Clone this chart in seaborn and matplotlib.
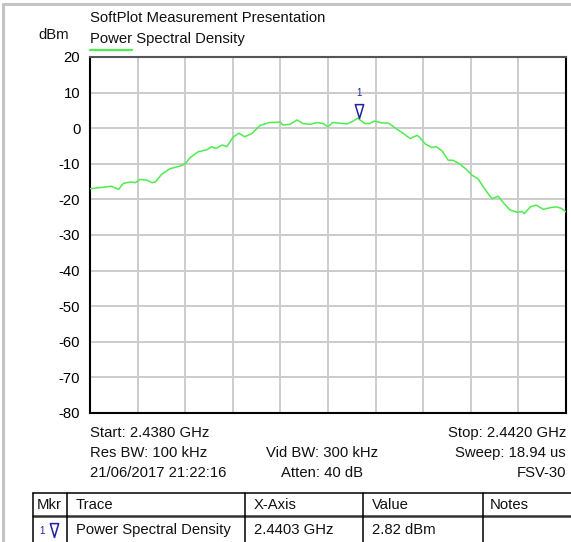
import numpy as np
import pandas as pd
import matplotlib
matplotlib.use("Agg")
import matplotlib.pyplot as plt
from matplotlib.path import Path
from matplotlib.lines import Line2D
import seaborn as sns

# ---------------- data ----------------
freq_ghz = [2.43800, 2.43808, 2.43818, 2.43824, 2.43828, 2.43834, 2.43838, 2.43842,
            2.43848, 2.43852, 2.43855, 2.43860, 2.43867, 2.43876, 2.43880, 2.43884,
            2.43891, 2.43898, 2.43902, 2.43906, 2.43911, 2.43915, 2.43920, 2.43925,
            2.43930, 2.43936, 2.43943, 2.43951, 2.43960, 2.43962, 2.43968, 2.43974,
            2.43979, 2.43985, 2.43991, 2.43996, 2.44000, 2.44004, 2.44010, 2.44016,
            2.44020, 2.44025, 2.44031, 2.44035, 2.44039, 2.44045, 2.44051, 2.44058,
            2.44063, 2.44069, 2.44075, 2.44077, 2.44082, 2.44087, 2.44091, 2.44096,
            2.44101, 2.44105, 2.44111, 2.44117, 2.44121, 2.44126, 2.44130, 2.44135,
            2.44138, 2.44143, 2.44147, 2.44153, 2.44159, 2.44163, 2.44165, 2.44170,
            2.44175, 2.44181, 2.44187, 2.44192, 2.44196, 2.44200]
psd_dbm = [-17.0, -16.7, -16.3, -17.2, -15.5, -15.1, -15.3, -14.4,
           -14.6, -15.3, -15.1, -13.0, -11.4, -10.6, -10.0, -8.3,
           -6.6, -6.1, -5.2, -5.7, -4.7, -5.2, -2.6, -1.4,
           -2.4, -1.5, 0.8, 1.6, 1.7, 0.9, 1.1, 2.3,
           1.3, 1.1, 1.6, 1.3, 0.4, 1.6, 1.4, 1.2,
           1.8, 2.8, 1.3, 1.3, 2.0, 1.5, 1.4, -0.3,
           -1.4, -2.9, -2.0, -2.6, -4.5, -5.4, -5.2, -6.4,
           -9.0, -9.0, -10.1, -11.8, -13.2, -14.2, -16.2, -18.6,
           -19.8, -19.1, -20.8, -23.0, -23.6, -23.4, -24.0, -22.1,
           -21.6, -22.8, -22.3, -22.1, -22.5, -23.5]

marker_ids = ["1"]
marker_freq_ghz = [2.44026]
marker_value_dbm = [2.82]

y_ticks = [20, 10, 0, -10, -20, -30, -40, -50, -60, -70, -80]
start_ghz, stop_ghz = 2.4380, 2.4420

title = "SoftPlot Measurement Presentation"
trace_name = "Power Spectral Density"
y_unit = "dBm"
info_left = ["Start: 2.4380 GHz", "Res BW: 100 kHz", "21/06/2017 21:22:16"]
info_mid = ["", "Vid BW: 300 kHz", "Atten: 40 dB"]
info_right = ["Stop: 2.4420 GHz", "Sweep: 18.94 us", "FSV-30"]
table_header = ["Mkr", "Trace", "X-Axis", "Value", "Notes"]

# ---------------- style ----------------
sns.set_theme(style="white")
plt.rcParams['font.family'] = ['Liberation Sans', 'DejaVu Sans']

GREEN = "#4ded4d"
BLUE = "#22229a"
GRID = "#cccccc"
FS = 10.7

W, H = 571, 542
fig = plt.figure(figsize=(W / 100, H / 100), dpi=100)
fig.patch.set_facecolor("white")

# overlay axes in pixel coordinates for page decorations
ov = fig.add_axes([0, 0, 1, 1], zorder=0)
ov.set_xlim(0, W)
ov.set_ylim(H, 0)
ov.axis("off")

# plot axes
L, R, T, B = 90, 566, 57, 413
ax = fig.add_axes([L / W, 1 - B / H, (R - L) / W, (B - T) / H], zorder=2)
ax.set_facecolor("none")

df = pd.DataFrame({"freq": freq_ghz, "psd": psd_dbm})
sns.lineplot(data=df, x="freq", y="psd", ax=ax, color=GREEN, linewidth=1.1, zorder=3)

ax.set_xlim(start_ghz, stop_ghz)
ax.set_ylim(-80, 20)
ax.set_xticks(np.linspace(start_ghz, stop_ghz, 11))
ax.set_xticklabels([])
ax.set_yticks(y_ticks)
ax.set_yticklabels([str(v) for v in y_ticks], fontsize=FS, color="black")
ax.tick_params(axis="both", length=0, pad=7)
ax.grid(True, color=GRID, linewidth=1.4)
ax.set_axisbelow(True)
ax.set_xlabel("")
ax.set_ylabel("")
for s in ax.spines.values():
    s.set_visible(True)
    s.set_color("black")
    s.set_linewidth(1.5)
ax.spines["top"].set_color("#555555")

# marker triangle with apex on the data point
tri = Path([(-0.3, 1.0), (0.3, 1.0), (0.0, 0.0), (-0.3, 1.0)],
           [Path.MOVETO, Path.LINETO, Path.LINETO, Path.CLOSEPOLY])
ax.plot(marker_freq_ghz, marker_value_dbm, linestyle="none", marker=tri, markersize=20,
        markerfacecolor="none", markeredgecolor=BLUE, markeredgewidth=1.1, zorder=4)
for mid, mf, mv in zip(marker_ids, marker_freq_ghz, marker_value_dbm):
    ax.annotate(mid, (mf, mv), xytext=(0, 18), textcoords="offset points",
                ha="center", va="center", fontsize=7, color=BLUE)

# page border
ov.add_line(Line2D([3, W], [4, 4], color="#c4c4c4", linewidth=2.2))
ov.add_line(Line2D([3, 3], [4, H], color="#c4c4c4", linewidth=2.2))

# header texts
ov.text(L, 18, title, fontsize=FS, ha="left", va="center", color="#111111")
ov.text(L, 39, trace_name, fontsize=FS, ha="left", va="center", color="#111111")
ov.add_line(Line2D([L, L + 42], [50, 50], color=GREEN, linewidth=1.6))
ov.text(54, 35, y_unit, fontsize=FS, ha="center", va="center", color="#111111")

# info lines
for i, (a, b, c) in enumerate(zip(info_left, info_mid, info_right)):
    y = 433 + i * 20
    ov.text(L, y, a, fontsize=FS, ha="left", va="center", color="#111111")
    ov.text(322, y, b, fontsize=FS, ha="center", va="center", color="#111111")
    ov.text(R, y, c, fontsize=FS, ha="right", va="center", color="#111111")

# marker table
col_x = [33, 67, 245, 363, 483]
top_y, sep_y = 493, 516
ov.add_line(Line2D([col_x[0], W], [top_y, top_y], color="black", linewidth=1.1))
ov.add_line(Line2D([col_x[0], W], [sep_y, sep_y], color="#333333", linewidth=1.8))
for cx in col_x:
    ov.add_line(Line2D([cx, cx], [top_y, H], color="black", linewidth=1.1))
text_x = [37, 76, 254, 372, 490]
for tx, h in zip(text_x, table_header):
    ov.text(tx, 505, h, fontsize=FS, ha="left", va="center", color="#111111")

for mid, mf, mv in zip(marker_ids, marker_freq_ghz, marker_value_dbm):
    ov.text(39, 531, mid, fontsize=7, ha="left", va="center", color=BLUE)
    ov.plot([54], [537], linestyle="none", marker=tri, markersize=20,
            markerfacecolor="none", markeredgecolor=BLUE, markeredgewidth=1.1)
    ov.text(text_x[1], 530, trace_name, fontsize=FS, ha="left", va="center", color="#111111")
    ov.text(text_x[2], 530, f"{mf:.4f} GHz", fontsize=FS, ha="left", va="center", color="#111111")
    ov.text(text_x[3], 530, f"{mv:.2f} dBm", fontsize=FS, ha="left", va="center", color="#111111")

fig.savefig("out.png", dpi=100, facecolor="white")
